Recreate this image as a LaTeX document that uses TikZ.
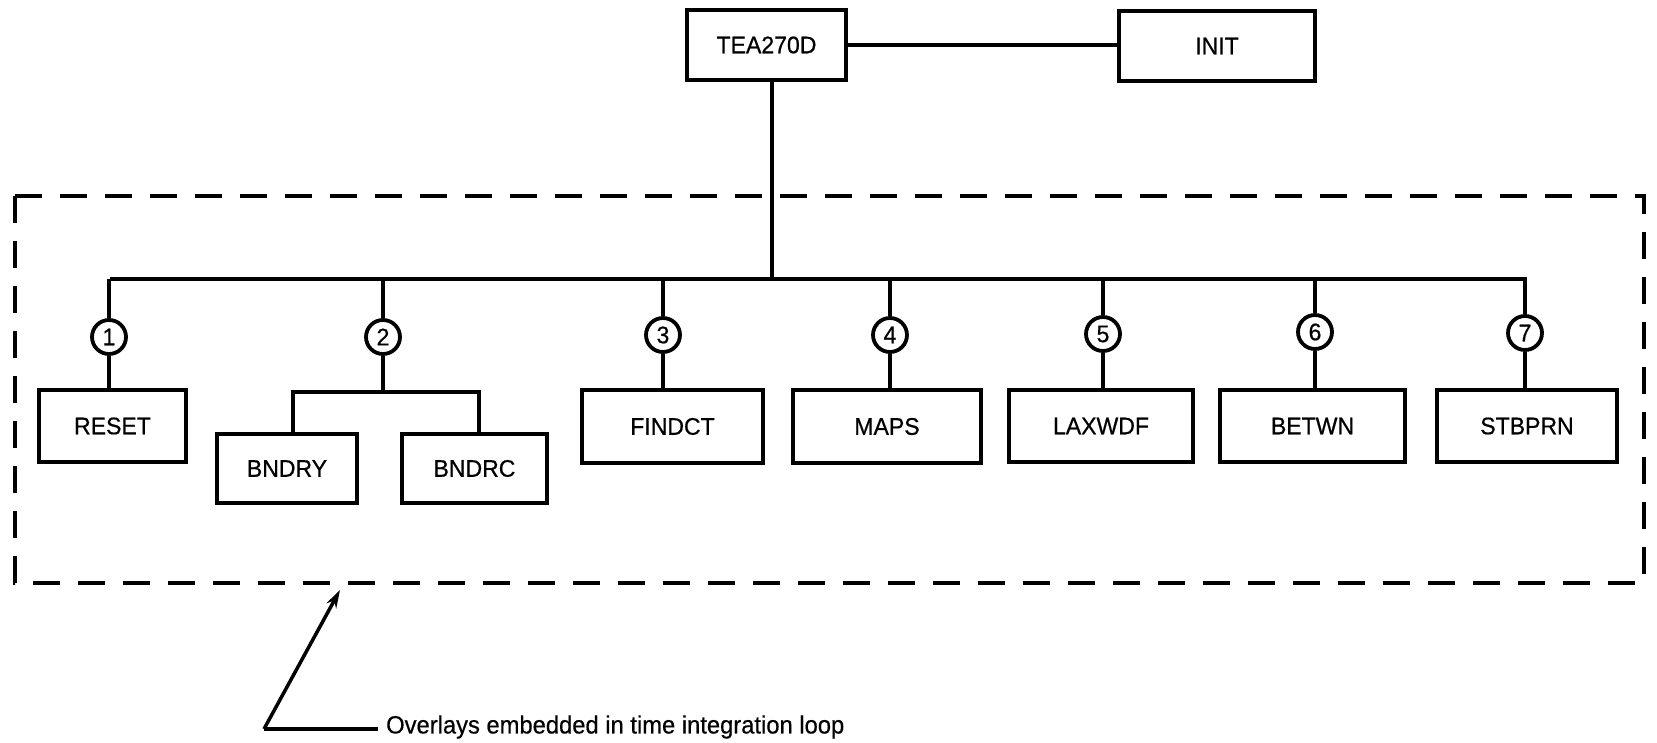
\documentclass[tikz,border=0pt]{standalone}
\usepackage{fontspec}
\setmainfont[FakeStretch=0.96,FakeBold=0.6]{Liberation Sans}
\newfontfamily\condfont[FakeStretch=0.95,FakeBold=0.5]{Liberation Sans}
\usetikzlibrary{arrows.meta}
\tikzset{
  modbox/.style={draw, line width=4pt, rectangle, inner sep=0pt, font=\fontsize{24}{28}\selectfont},
  numcirc/.style={draw, line width=3.8pt, circle, inner sep=0pt, minimum size=34pt, fill=white, font=\fontsize{24}{28}\selectfont},
  conn/.style={line width=3.5pt},
  loopbox/.style={line width=4.2pt, dash pattern=on 27pt off 18pt},
}
\begin{document}
\begin{tikzpicture}[x=1pt,y=-1pt]
\useasboundingbox (0,0) rectangle (1657,743);
% top
\node[modbox, minimum width=159pt, minimum height=70pt] (tea) at (766.5,45) {TEA270D};
\node[modbox, minimum width=196pt, minimum height=70pt] (init) at (1217,46) {INIT};
\draw[conn] (tea.east) -- (init.west |- tea.east);
% loop box
\draw[loopbox] (15,196) rectangle (1644,583);
% bus
\coordinate (busL) at (110,279);
\coordinate (busR) at (1527,279);
\coordinate (busT) at (772,279);
\draw[conn] (busL) -- (busR);
\draw[conn] (tea.south -| busT) -- (busT);
% circles
\node[numcirc] (c1) at (109,337) {1};
\node[numcirc] (c2) at (383,337) {2};
\node[numcirc] (c3) at (663,335) {3};
\node[numcirc] (c4) at (890,335) {4};
\node[numcirc] (c5) at (1103,334) {5};
\node[numcirc] (c6) at (1315,332) {6};
\node[numcirc] (c7) at (1525,333) {7};
\foreach \c in {c1,c2,c3,c4,c5,c6,c7}{
  \draw[conn] (\c.north) -- (\c.north |- busL);
}
% boxes
\node[modbox, minimum width=147pt, minimum height=72pt] (reset) at (112.5,426) {RESET};
\node[modbox, minimum width=140pt, minimum height=69pt] (bndry) at (287,468.5) {BNDRY};
\node[modbox, minimum width=145pt, minimum height=69pt] (bndrc) at (474.5,468.5) {BNDRC};
\node[modbox, minimum width=181pt, minimum height=73pt] (findct) at (672.5,426.5) {FINDCT};
\node[modbox, minimum width=188pt, minimum height=73pt] (maps) at (887,426.5) {MAPS};
\node[modbox, minimum width=184pt, minimum height=72pt] (laxwdf) at (1101,426) {LAXWDF};
\node[modbox, minimum width=185pt, minimum height=72pt] (betwn) at (1312.5,426) {BETWN};
\node[modbox, minimum width=180pt, minimum height=72pt] (stbprn) at (1527,426) {STBPRN};
% circle to box
\draw[conn] (c1.south) -- (c1.south |- reset.north);
\draw[conn] (c3.south) -- (c3.south |- findct.north);
\draw[conn] (c4.south) -- (c4.south |- maps.north);
\draw[conn] (c5.south) -- (c5.south |- laxwdf.north);
\draw[conn] (c6.south) -- (c6.south |- betwn.north);
\draw[conn] (c7.south) -- (c7.south |- stbprn.north);
% fork
\coordinate (fork) at (383,392);
\coordinate (forkL) at (293,392);
\coordinate (forkR) at (479,392);
\draw[conn] (c2.south) -- (fork);
\draw[conn] (forkL |- bndry.north) -- (forkL) -- (forkR) -- (forkR |- bndrc.north);
% annotation
\coordinate (tip) at (340,590);
\coordinate (corner) at (264,729);
\node[anchor=west, inner sep=0pt, font=\condfont\fontsize{25}{29}\selectfont] (lbl) at (386,727) {Overlays embedded in time integration loop};
\draw[line width=3.5pt, -{Stealth[length=18pt,width=11pt]}] (corner) -- (tip);
\draw[conn] (corner) -- ([xshift=-8pt]lbl.west |- corner);
\end{tikzpicture}
\end{document}
